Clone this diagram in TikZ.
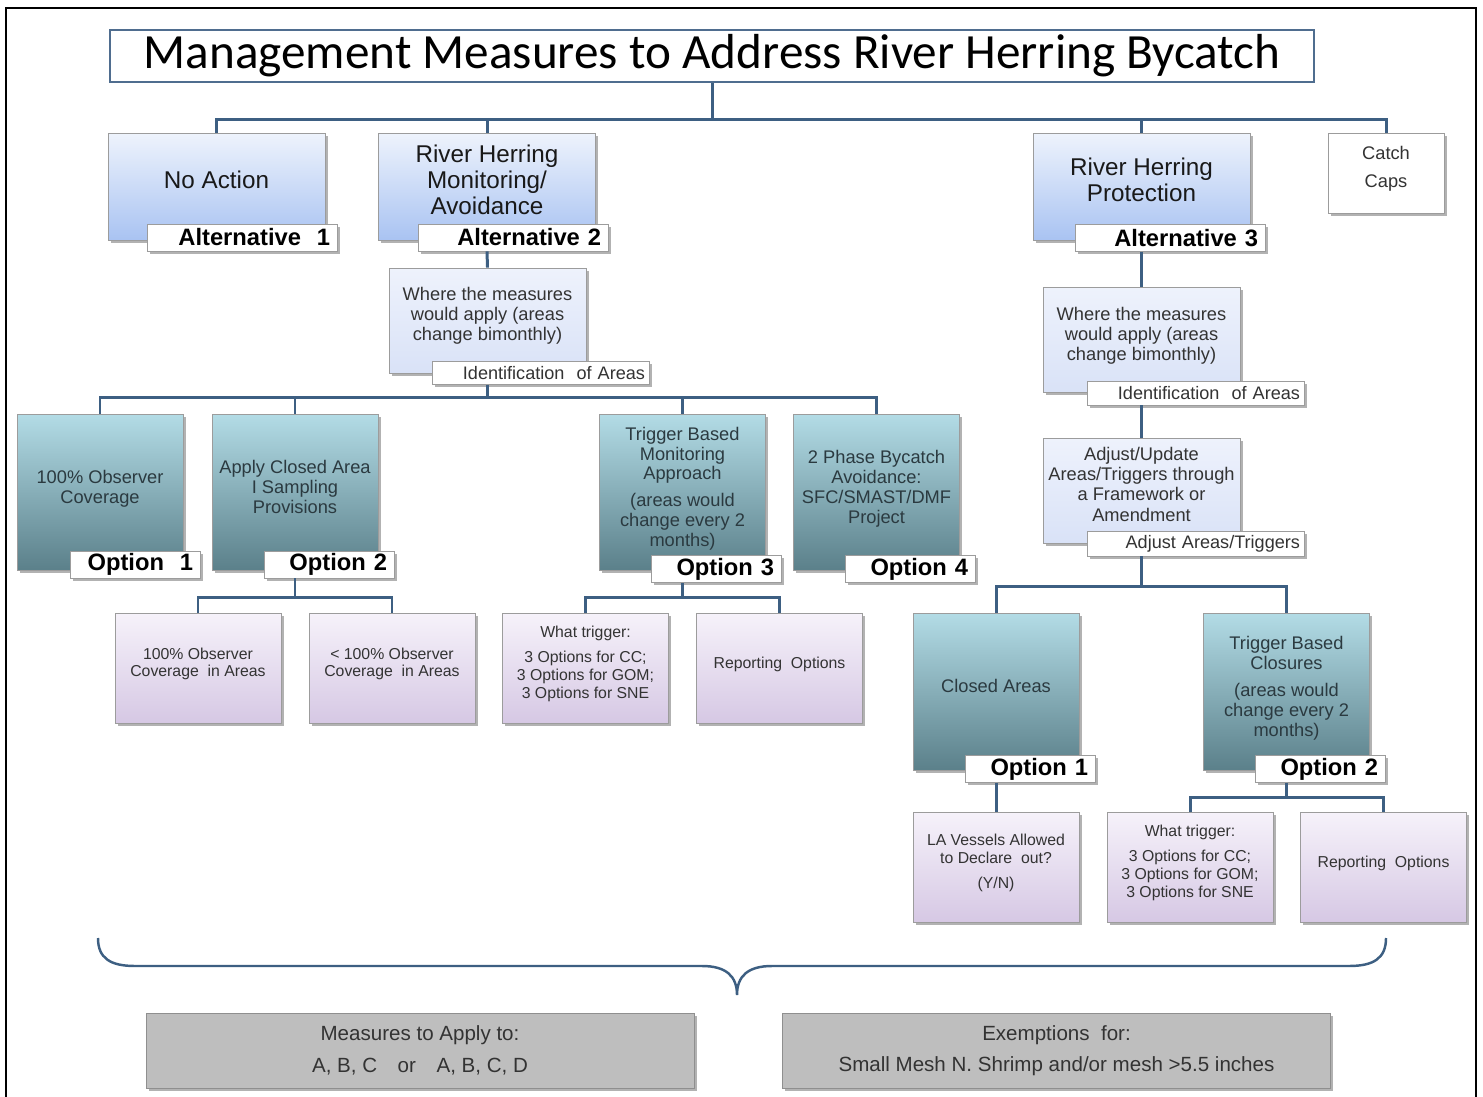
\documentclass[tikz,border=0pt]{standalone}
\usepackage{fontspec}
\setmainfont{Liberation Sans}
\newfontfamily\titlefont{Carlito}
\usetikzlibrary{shadows}

\definecolor{linkblue}{HTML}{3D5F82}
\definecolor{titleedge}{HTML}{4F6D8F}
\definecolor{boxedge}{HTML}{9C9C9C}
\definecolor{altlight}{HTML}{EEF3FC}
\definecolor{altdark}{HTML}{A9C3F2}
\definecolor{palelight}{HTML}{EEF2FC}
\definecolor{paledark}{HTML}{D9E2F7}
\definecolor{teallight}{HTML}{B3DCE6}
\definecolor{tealdark}{HTML}{5B808A}
\definecolor{lavlight}{HTML}{F6F2FA}
\definecolor{lavdark}{HTML}{D6C8E4}
\definecolor{greybox}{HTML}{BEBEBE}
\definecolor{greyedge}{HTML}{8F8F8F}
\definecolor{darktext}{HTML}{2B3A40}

\tikzset{
	link/.style={draw=linkblue, line width=1.7pt},
	shadowed/.style={drop shadow={shadow xshift=1.5pt, shadow yshift=-1.5pt, opacity=0.3, fill=black}},
	titlebox/.style={draw=titleedge, line width=1.4pt, fill=white, minimum width=24.08cm, minimum height=1.04cm, inner sep=0pt, font=\titlefont\fontsize{28}{30}\selectfont},
	altbox/.style={shadowed, draw=boxedge, top color=altlight, bottom color=altdark, minimum width=4.34cm, minimum height=2.14cm, align=center, inner sep=0pt, text depth=8pt, font=\fontsize{13.8}{14.7}\selectfont, text=black!90},
	capsbox/.style={shadowed, draw=boxedge, fill=white, minimum width=2.32cm, minimum height=1.6cm, align=center, inner sep=0pt, text depth=6.5pt, font=\fontsize{10.4}{16}\selectfont, text=black!80},
	palebox/.style={shadowed, draw=boxedge, top color=palelight, bottom color=paledark, minimum width=3.94cm, minimum height=2.1cm, align=center, inner sep=0pt, text depth=7pt, font=\fontsize{10.4}{11.4}\selectfont, text=black!80},
	optbox/.style={shadowed, draw=boxedge, top color=teallight, bottom color=tealdark, minimum width=3.32cm, minimum height=3.12cm, align=center, inner sep=0pt, text depth=6pt, font=\fontsize{10.4}{11.3}\selectfont, text=darktext},
	lavbox/.style={shadowed, draw=boxedge, top color=lavlight, bottom color=lavdark, minimum width=3.32cm, minimum height=2.2cm, align=center, inner sep=0pt, text depth=6.5pt, font=\fontsize{9}{10.2}\selectfont, text=black!80},
	greyfoot/.style={shadowed, draw=greyedge, fill=greybox, minimum width=10.96cm, minimum height=1.5cm, align=center, inner sep=0pt, font=\fontsize{11.7}{18}\selectfont, text=black!80},
	biglab/.style={shadowed, draw=boxedge, fill=white, text width=#1, align=right, inner xsep=0.14cm, inner ysep=0pt, minimum height=0.54cm, font=\bfseries\fontsize{13.5}{14}\selectfont},
	smalllab/.style={shadowed, draw=boxedge, fill=white, text width=#1, align=right, inner xsep=0.08cm, inner ysep=0pt, minimum height=0.46cm, font=\fontsize{10.3}{11}\selectfont, text=black!80},
}

\begin{document}
\begin{tikzpicture}[x=0.02cm, y=-0.02cm]
	\useasboundingbox (0,0) rectangle (1483,1097);
	\draw[line width=1.4pt] (6,1097) -- (6,8) -- (1476,8) -- (1476,1097);

	\node[titlebox] (title) at (712,56) {Management Measures to Address River Herring Bycatch};

	% alternatives
	\node[altbox] (alt1) at (216.5,186.5) {No Action};
	\node[altbox] (alt2) at (487,186.5) {River Herring\\Monitoring/\\Avoidance};
	\node[altbox] (alt3) at (1141.5,186.5) {River Herring\\Protection};
	\node[capsbox] (caps) at (1386,173) {Catch\\Caps};
	\node[biglab=3.52cm] (alab1) at (242,237.5) {Alternative~~1};
	\node[biglab=3.52cm] (alab2) at (513,237.5) {Alternative 2};
	\node[biglab=3.52cm] (alab3) at (1170,238) {Alternative 3};

	\draw[link] (title.south) -- ++(0,36) coordinate (topbus);
	\foreach \n in {alt1,alt2,alt3,caps}{
		\draw[link] (topbus) -| (\n.north);
	}

	% alternative 2
	\node[palebox] (where2) at (487.5,320.5) {Where the measures\\would apply (areas\\change bimonthly)};
	\node[smalllab=4.18cm] (idlab2) at (540.5,373) {Identification~ of Areas};
	\draw[link] (alab2.south -| alt2.south) -- (where2.north);

	\node[optbox] (opt1) at (100,492) {100\% Observer\\Coverage};
	\node[optbox] (opt2) at (295,492) {Apply Closed Area\\I Sampling\\Provisions};
	\node[optbox] (opt3) at (682.5,492) {Trigger Based\\Monitoring\\Approach\\[4pt](areas would\\change every 2\\months)};
	\node[optbox] (opt4) at (876.5,492) {2 Phase Bycatch\\Avoidance:\\SFC/SMAST/DMF\\Project};
	\node[biglab=2.32cm] (olab1) at (135,564.5) {Option~~1};
	\node[biglab=2.32cm] (olab2) at (329,564.5) {Option 2};
	\node[biglab=2.32cm] (olab3) at (716,569) {Option 3};
	\node[biglab=2.32cm] (olab4) at (910,569) {Option 4};

	\draw[link] (idlab2.south -| where2.south) -- ++(0,13) coordinate (optbus);
	\foreach \n in {opt1,opt2,opt3,opt4}{
		\draw[link] (optbus) -| (\n.north);
	}

	\node[lavbox] (full2) at (198,668) {100\% Observer\\Coverage~ in Areas};
	\node[lavbox] (part2) at (392,668) {< 100\% Observer\\Coverage~ in Areas};
	\node[lavbox] (trig2) at (585.5,668) {What trigger:\\[4pt]3 Options for CC;\\3 Options for GOM;\\3 Options for SNE};
	\node[lavbox] (rep2) at (779.5,668) {Reporting~ Options};

	\draw[link] (olab2.south -| opt2.south) -- ++(0,19) coordinate (obsbus);
	\foreach \n in {full2,part2}{
		\draw[link] (obsbus) -| (\n.north);
	}
	\draw[link] (olab3.south -| opt3.south) -- ++(0,15) coordinate (trigbus);
	\foreach \n in {trig2,rep2}{
		\draw[link] (trigbus) -| (\n.north);
	}

	% alternative 3
	\node[palebox] (where3) at (1141.5,340) {Where the measures\\would apply (areas\\change bimonthly)};
	\node[smalllab=4.18cm, minimum height=0.48cm] (idlab3) at (1195.5,393) {Identification~ of Areas};
	\node[palebox] (adj3) at (1141.5,490.5) {Adjust/Update\\Areas/Triggers through\\a Framework or\\Amendment};
	\node[smalllab=4.18cm, minimum height=0.5cm] (adjlab3) at (1195.5,543.5) {Adjust Areas/Triggers};
	\draw[link] (alab3.south -| alt3.south) -- (where3.north);
	\draw[link] (idlab3.south -| where3.south) -- (adj3.north);

	\node[optbox, minimum height=3.14cm] (closed3) at (996,691.5) {Closed Areas};
	\node[optbox, minimum height=3.14cm] (trig3) at (1286.5,691.5) {Trigger Based\\Closures\\[4pt](areas would\\change every 2\\months)};
	\node[biglab=2.32cm] (clab1) at (1030,769) {Option 1};
	\node[biglab=2.32cm] (clab2) at (1320,769) {Option 2};

	\draw[link] (adjlab3.south -| adj3.south) -- ++(0,30) coordinate (protbus);
	\foreach \n in {closed3,trig3}{
		\draw[link] (protbus) -| (\n.north);
	}

	\node[lavbox] (declare3) at (996,867) {LA Vessels Allowed\\to Declare~ out?\\[4pt](Y/N)};
	\node[lavbox] (what3) at (1190,867) {What trigger:\\[4pt]3 Options for CC;\\3 Options for GOM;\\3 Options for SNE};
	\node[lavbox] (rep3) at (1383.5,867) {Reporting~ Options};

	\draw[link] (clab1.south -| closed3.south) -- (declare3.north);
	\draw[link] (clab2.south -| trig3.south) -- ++(0,15) coordinate (closbus);
	\foreach \n in {what3,rep3}{
		\draw[link] (closbus) -| (\n.north);
	}

	% brace over the whole tree
	\draw[linkblue, line width=1.4pt] (98,938) .. controls (98,958) and (110,966) .. (135,966)
		-- (702,966) .. controls (726,966) and (737,976) .. (737,995)
		.. controls (737,976) and (748,966) .. (772,966)
		-- (1349,966) .. controls (1374,966) and (1386,958) .. (1386,938);

	\node[greyfoot] (apply) at (420,1050.5) {Measures to Apply to:\\A, B, C\quad or\quad A, B, C, D};
	\node[greyfoot] (exempt) at (1056.5,1050.5) {Exemptions~ for:\\Small Mesh N. Shrimp and/or mesh >5.5 inches};
\end{tikzpicture}
\end{document}
